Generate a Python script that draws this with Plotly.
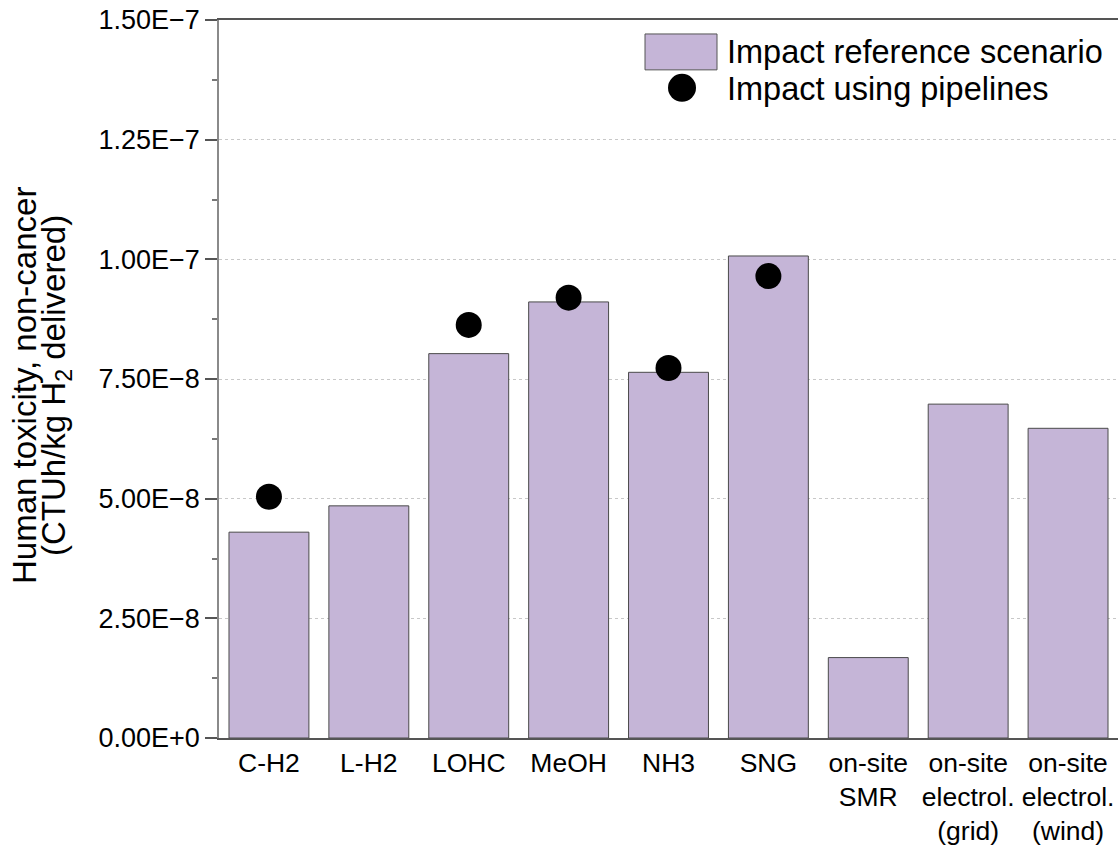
import plotly.graph_objects as go

categories = ["C-H2", "L-H2", "LOHC", "MeOH", "NH3", "SNG",
              "on-site<br>SMR", "on-site<br>electrol.<br>(grid)", "on-site<br>electrol.<br>(wind)"]
reference_values = [4.30e-8, 4.85e-8, 8.03e-8, 9.11e-8, 7.64e-8, 1.007e-7, 1.68e-8, 6.975e-8, 6.47e-8]
pipeline_values = [5.04e-8, None, 8.63e-8, 9.20e-8, 7.73e-8, 9.65e-8, None, None, None]
tick_vals = [0, 2.5e-8, 5.0e-8, 7.5e-8, 1.0e-7, 1.25e-7, 1.5e-7]
tick_text = ["0.00E+0", "2.50E\u22128", "5.00E\u22128", "7.50E\u22128",
             "1.00E\u22127", "1.25E\u22127", "1.50E\u22127"]
minor_vals = [1.25e-8, 3.75e-8, 6.25e-8, 8.75e-8, 1.125e-7, 1.375e-7]
legend_labels = ["Impact reference scenario", "Impact using pipelines"]

W, H = 1118, 846
L, R, T, B = 219, 0, 20, 106
PW, PH = W - L - R, H - T - B

def px(x):
    return (x - L) / PW

def py(y):
    return (H - B - y) / PH

FONT = "Liberation Sans, Arial, sans-serif"
BAR_COLOR = "#C5B5D7"

fig = go.Figure()
fig.add_trace(go.Bar(
    x=categories, y=reference_values,
    marker=dict(color=BAR_COLOR, line=dict(color="#4a4a4a", width=1)),
    width=0.8, showlegend=False, name=legend_labels[0],
))
fig.add_trace(go.Scatter(
    x=categories, y=pipeline_values, mode="markers",
    marker=dict(color="black", size=26),
    showlegend=False, name=legend_labels[1],
))

shapes = [
    dict(type="rect", xref="paper", yref="paper",
         x0=px(645), x1=px(717), y0=py(70), y1=py(34),
         fillcolor=BAR_COLOR, line=dict(color="#555555", width=1)),
    dict(type="circle", xref="paper", yref="paper",
         x0=px(668), x1=px(696), y0=py(102), y1=py(74),
         fillcolor="black", line=dict(color="black", width=0)),
]
annotations = [
    dict(text=legend_labels[0], xref="paper", yref="paper", x=px(725), y=py(52),
         xanchor="left", yanchor="middle", showarrow=False,
         font=dict(family=FONT, size=32.5, color="black")),
    dict(text=legend_labels[1], xref="paper", yref="paper", x=px(725), y=py(89),
         xanchor="left", yanchor="middle", showarrow=False,
         font=dict(family=FONT, size=32.5, color="black")),
    dict(text="Human toxicity, non-cancer", xref="paper", yref="paper",
         x=px(25), y=py(387), xanchor="center", yanchor="middle", textangle=-90,
         showarrow=False, font=dict(family=FONT, size=33, color="black")),
    dict(text="(CTUh/kg H<sub>2</sub> delivered)", xref="paper", yref="paper",
         x=px(56), y=py(387), xanchor="center", yanchor="middle", textangle=-90,
         showarrow=False, font=dict(family=FONT, size=33, color="black")),
]

fig.update_layout(
    width=W, height=H,
    margin=dict(l=L, r=R, t=T, b=B, pad=0),
    paper_bgcolor="white", plot_bgcolor="white",
    font=dict(family=FONT, size=26, color="black"),
    bargap=0.2,
    hovermode=False,
    shapes=shapes, annotations=annotations,
    xaxis=dict(
        type="category", range=[-0.5, 8.5],
        showline=True, linecolor="#555555", linewidth=1.5, mirror=True,
        ticks="", showgrid=False, zeroline=False,
        tickfont=dict(family=FONT, size=26.5, color="black"),
    ),
    yaxis=dict(
        range=[0, 1.5e-7], tickvals=tick_vals, ticktext=tick_text,
        showline=True, linecolor="#8a8a8a", linewidth=1.5,
        ticks="outside", ticklen=12, tickwidth=1.5, tickcolor="#555555",
        showgrid=True, gridcolor="#c8c8c8", griddash="dot", gridwidth=1,
        zeroline=False,
        minor=dict(ticks="outside", ticklen=5, tickwidth=1.5, tickcolor="#777777",
                   tickvals=minor_vals, showgrid=False),
        tickfont=dict(family=FONT, size=27, color="black"),
        ticklabelstandoff=0,
    ),
)

fig.write_html("out.html", config={"displayModeBar": False},
               post_script="document.body.style.margin='0px';document.body.style.overflow='hidden';")
